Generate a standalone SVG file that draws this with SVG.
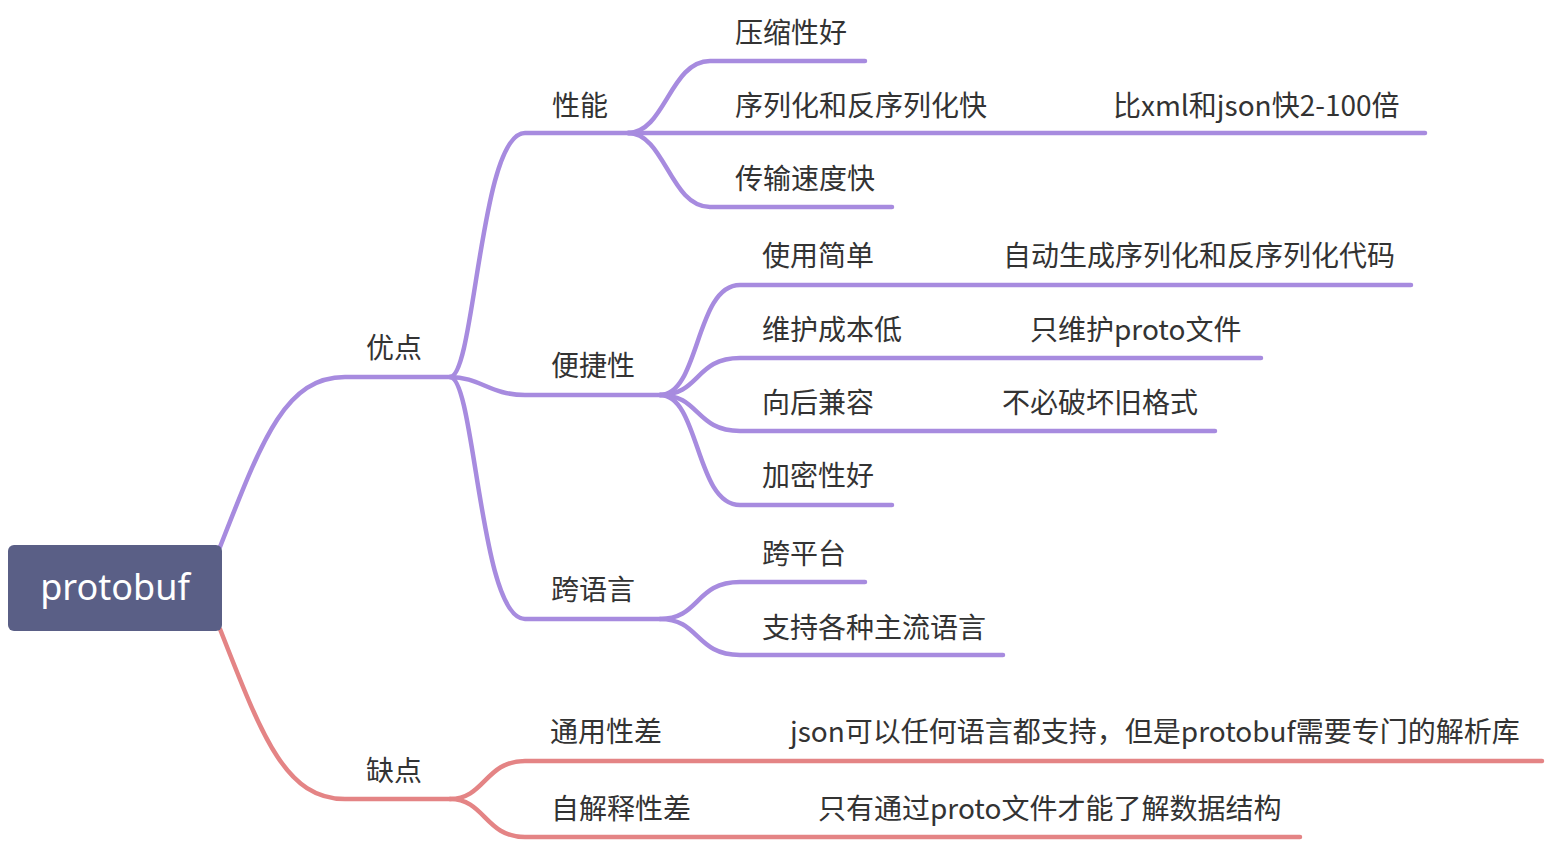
<svg xmlns="http://www.w3.org/2000/svg" width="1548" height="842" viewBox="0 0 1548 842">
<style>
.p{fill:none;stroke:#a78bdf;stroke-width:4.5;stroke-linecap:round;stroke-linejoin:round}
.r{fill:none;stroke:#e48485;stroke-width:4.5;stroke-linecap:round;stroke-linejoin:round}
text{font-family:"Noto Sans CJK SC","Noto Sans",sans-serif;font-size:28px;fill:#333333}
.root{font-family:"Noto Sans","Noto Sans CJK SC",sans-serif;font-size:36px;fill:#ffffff}
</style>
<rect width="1548" height="842" fill="#ffffff"/>
<g id="connectors">
<path class="p" d="M220,547 C262,440 285,377 345,377 L450,377"/>
<path class="r" d="M220,629 C262,736 285,799 345,799 L450,799"/>
<path class="p" d="M450,377 C475,377 480,133 525,133 L630,133"/>
<path class="p" d="M450,377 C480,377 490,395 525,395 L660,395"/>
<path class="p" d="M450,377 C475,377 480,619 525,619 L660,619"/>
<path class="p" d="M628,133 C665,133 670,61 710,61 L865,61"/>
<path class="p" d="M628,133 L1425,133"/>
<path class="p" d="M628,133 C665,133 670,207 710,207 L892,207"/>
<path class="p" d="M660,395 C700,395 695,285 740,285 L1411,285"/>
<path class="p" d="M660,395 C700,395 695,358 740,358 L1261,358"/>
<path class="p" d="M660,395 C700,395 695,431 740,431 L1215,431"/>
<path class="p" d="M660,395 C700,395 695,505 740,505 L892,505"/>
<path class="p" d="M660,619 C700,619 695,582 740,582 L865,582"/>
<path class="p" d="M660,619 C700,619 695,655 740,655 L1003,655"/>
<path class="r" d="M450,799 C485,799 485,761 525,761 L1542,761"/>
<path class="r" d="M450,799 C485,799 485,837 525,837 L1300,837"/>
</g>
<g id="root"><rect x="8" y="545" width="214" height="86" rx="6" fill="#5a5f86"/><text class="root" x="115" y="600" text-anchor="middle">protobuf</text></g>
<g id="n-youdian"><text x="366" y="358">优点</text></g>
<g id="n-quedian"><text x="366" y="781">缺点</text></g>
<g id="n-xingneng"><text x="552" y="116">性能</text></g>
<g id="n-bianjie"><text x="551" y="376">便捷性</text></g>
<g id="n-kuayuyan"><text x="551" y="600">跨语言</text></g>
<g id="n-yasuo"><text x="735" y="43">压缩性好</text></g>
<g id="n-xulie"><text x="735" y="116">序列化和反序列化快</text></g>
<g id="n-bixml"><text x="1113" y="116">比xml和json快2-100倍</text></g>
<g id="n-chuanshu"><text x="735" y="189">传输速度快</text></g>
<g id="n-shiyong"><text x="762" y="266">使用简单</text></g>
<g id="n-zidong"><text x="1003" y="266">自动生成序列化和反序列化代码</text></g>
<g id="n-weihu"><text x="762" y="340">维护成本低</text></g>
<g id="n-zhiweihu"><text x="1030" y="340">只维护proto文件</text></g>
<g id="n-xianghou"><text x="762" y="413">向后兼容</text></g>
<g id="n-bubi"><text x="1002" y="413">不必破坏旧格式</text></g>
<g id="n-jiami"><text x="762" y="486">加密性好</text></g>
<g id="n-kuapingtai"><text x="762" y="564">跨平台</text></g>
<g id="n-zhichi"><text x="762" y="638">支持各种主流语言</text></g>
<g id="n-tongyong"><text x="550" y="742">通用性差</text></g>
<g id="n-json"><text x="790" y="742">json可以任何语言都支持，但是protobuf需要专门的解析库</text></g>
<g id="n-zijieshi"><text x="551" y="819">自解释性差</text></g>
<g id="n-zhiyou"><text x="818" y="819">只有通过proto文件才能了解数据结构</text></g>
</svg>
